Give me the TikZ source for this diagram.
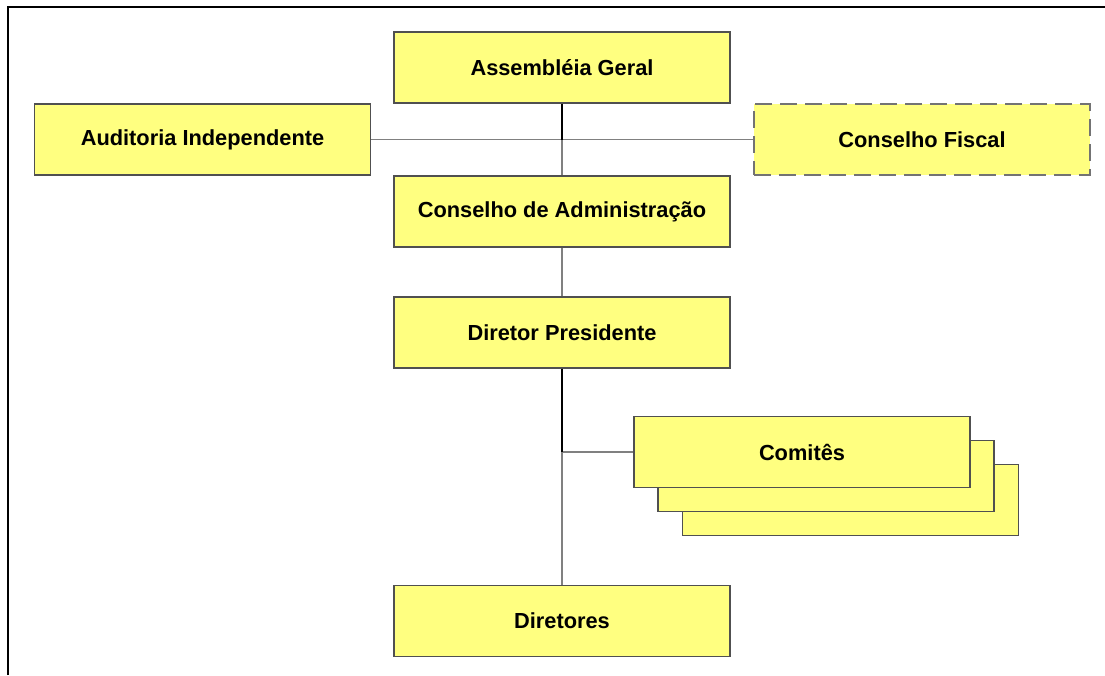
\documentclass[tikz,border=0pt]{standalone}
\usepackage{fontspec}
\setmainfont{Liberation Sans}
\definecolor{boxfill}{HTML}{FFFF80}
\definecolor{boxline}{HTML}{505050}
\definecolor{connline}{HTML}{808080}
\tikzset{
  orgbox/.style={draw=boxline, line width=1.2pt, fill=boxfill, minimum width=336pt, minimum height=71pt, inner sep=0pt, font=\bfseries\fontsize{21.8}{24}\selectfont},
  dashbox/.style={orgbox, draw=boxline!80, dash pattern=on 17pt off 8pt},
  blkline/.style={draw=black, line width=2pt},
  gryline/.style={draw=connline, line width=1.2pt},
  frameline/.style={draw=black, line width=2.2pt}
}
\begin{document}
\begin{tikzpicture}[x=1pt, y=-1pt]
\useasboundingbox (0,0) rectangle (1105,675);
% frame
\coordinate (f1) at (8,675);
\coordinate (f2) at (8,7);
\coordinate (f3) at (1105,7);
\draw[frameline] (f1) -- (f2) -- (f3);
% boxes
\node[orgbox] (ag) at (562,67.5) {Assembléia Geral};
\node[orgbox] (aud) at (202.5,139.5) {Auditoria Independente};
\node[dashbox] (cf) at (922,139.5) {Conselho Fiscal};
\node[orgbox] (ca) at (562,211.5) {Conselho de Administração};
\node[orgbox] (dp) at (562,332.5) {Diretor Presidente};
\node[orgbox] (com3) at (850.5,500) {};
\node[orgbox] (com2) at (826,476) {};
\node[orgbox] (com1) at (802,452) {Comitês};
\node[orgbox] (dir) at (562,621) {Diretores};
% connectors
\coordinate (j1) at (ag.south |- aud.east);
\coordinate (j2) at (dp.south |- com1.west);
\draw[gryline] (aud.east) -- (cf.west);
\draw[gryline] (j1) -- (ca.north);
\draw[blkline] (ag.south) -- (j1);
\draw[gryline] (ca.south) -- (dp.north);
\draw[gryline] (j2) -- (dir.north);
\draw[gryline] (j2) -- (com1.west);
\draw[blkline] (dp.south) -- (j2);
\end{tikzpicture}
\end{document}
